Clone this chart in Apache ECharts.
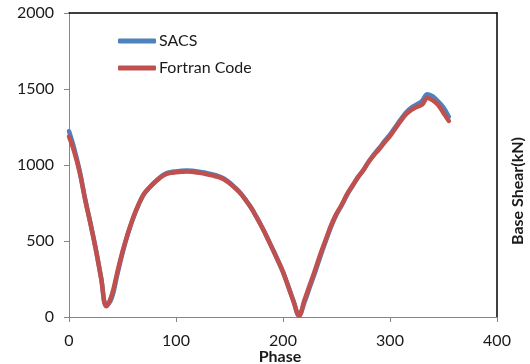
<!DOCTYPE html>
<html>
<head>
<meta charset="utf-8">
<script src="https://cdn.jsdelivr.net/npm/echarts@6/dist/echarts.min.js"></script>
<style>
html,body{margin:0;padding:0;background:#fff;}
#c{width:530px;height:364px;}
</style>
</head>
<body>
<div id="c"></div>
<script>
var phases = [0,5,10,15,20,25,30,35,40,45,50,55,60,65,70,75,80,85,90,95,100,105,110,115,120,125,130,135,140,145,150,155,160,165,170,175,180,185,190,195,200,205,210,215,220,225,230,235,240,245,250,255,260,265,270,275,280,285,290,295,300,305,310,315,320,325,330,335,340,345,350,355];
var sacs = [1222,1105,960,780,620,450,260,75,125,275,420,545,650,738,808,850,887,918,942,953,958,962,963,962,958,952,945,937,926,910,885,853,818,772,722,662,597,527,452,377,297,202,102,12,95,195,295,400,500,595,675,737,805,862,918,965,1022,1070,1112,1158,1200,1250,1300,1345,1378,1398,1422,1466,1452,1418,1378,1318];
var fortran = [1187,1085,950,775,615,445,255,70,145,290,430,550,655,740,810,850,885,915,938,948,952,955,957,955,950,945,937,930,920,905,880,850,815,770,720,660,595,525,450,375,295,198,98,8,110,210,310,415,510,605,680,740,810,865,920,965,1020,1065,1105,1150,1190,1240,1290,1335,1362,1382,1398,1440,1425,1395,1342,1290];
var xTicks = [0,100,200,300,400];
var yTicks = [0,500,1000,1500,2000];

function pairs(xs, ys){ return xs.map(function(x,i){return [x, ys[i]];}); }

var font = 'Lato, "Noto Sans", sans-serif';
var chart = echarts.init(document.getElementById('c'), null, {renderer:'canvas'});
chart.setOption({
  animation:false,
  backgroundColor:'#fff',
  grid:{left:69,right:33,top:13,bottom:47,containLabel:false,outerBoundsMode:'none'},
  legend:{
    orient:'vertical', left:113, top:28, itemWidth:38, itemHeight:5, itemGap:11,
    icon:'roundRect',
    textStyle:{fontFamily:font,fontSize:16,color:'#1a1a1a',padding:[0,0,0,-2]},
    data:['SACS','Fortran Code']
  },
  xAxis:[{
    type:'value', min:xTicks[0], max:xTicks[xTicks.length-1], interval:100,
    axisLine:{show:true,lineStyle:{color:'#868686',width:1}},
    axisTick:{show:true,length:5,lineStyle:{color:'#868686'}},
    axisLabel:{fontFamily:font,fontSize:16,color:'#1a1a1a',margin:16,formatter:function(v){return String(v);}},
    splitLine:{show:false}
  },{
    type:'value', position:'top', min:0, max:400,
    axisLine:{show:true,onZero:false,lineStyle:{color:'#000',width:1.5}},
    axisTick:{show:false}, axisLabel:{show:false}, splitLine:{show:false}
  }],
  yAxis:[{
    type:'value', min:yTicks[0], max:yTicks[yTicks.length-1], interval:500,
    axisLine:{show:true,lineStyle:{color:'#868686',width:1}},
    axisTick:{show:true,length:5,lineStyle:{color:'#868686'}},
    axisLabel:{fontFamily:font,fontSize:16,color:'#1a1a1a',margin:15,formatter:function(v){return String(v);}},
    splitLine:{show:false}
  },{
    type:'value', position:'right', min:0, max:2000,
    axisLine:{show:true,onZero:false,lineStyle:{color:'#000',width:1.5}},
    axisTick:{show:false}, axisLabel:{show:false}, splitLine:{show:false}
  }],
  graphic:[{
    type:'text', x:518, y:191, rotation:Math.PI/2,
    style:{text:'Base Shear(kN)', fontFamily:font, fontSize:16, fontWeight:'bold', fill:'#1a1a1a', align:'center', verticalAlign:'middle'}
  },{
    type:'text', x:280, y:357,
    style:{text:'Phase', fontFamily:font, fontSize:16, fontWeight:'bold', fill:'#1a1a1a', align:'center', verticalAlign:'middle'}
  }],
  series:[{
    name:'SACS', type:'line', data:pairs(phases,sacs), smooth:0.4, showSymbol:false, symbol:'none',
    lineStyle:{color:'#4F81BD',width:4.5,cap:'round',join:'round'}, itemStyle:{color:'#4F81BD'}, z:2
  },{
    name:'Fortran Code', type:'line', data:pairs(phases,fortran), smooth:0.4, showSymbol:false, symbol:'none',
    lineStyle:{color:'#C0504D',width:4.5,cap:'round',join:'round'}, itemStyle:{color:'#C0504D'}, z:3
  }]
});
</script>
</body>
</html>
